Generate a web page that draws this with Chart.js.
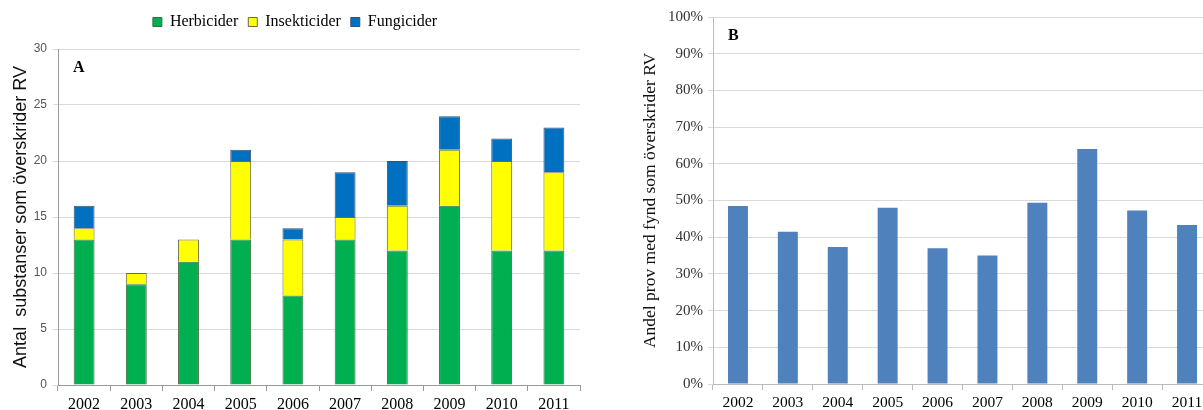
<!DOCTYPE html>
<html>
<head>
<meta charset="utf-8">
<script src="https://cdn.jsdelivr.net/npm/chart.js@4.4.0/dist/chart.umd.min.js"></script>
<style>
  html, body { margin: 0; padding: 0; background: #fff; width: 1203px; height: 410px; overflow: hidden; }
  #wrapA { position: absolute; left: 0; top: 0; width: 600px; height: 410px; }
  #wrapB { position: absolute; left: 600px; top: 0; width: 612px; height: 410px; }
</style>
</head>
<body>
<div id="wrapA"><canvas id="chartA"></canvas></div>
<div id="wrapB"><canvas id="chartB"></canvas></div>
<script>
// data
const years = ['2002', '2003', '2004', '2005', '2006', '2007', '2008', '2009', '2010', '2011'];
const herbicider = [13, 9, 11, 13, 8, 13, 12, 16, 12, 12];
const insekticider = [1, 1, 2, 7, 5, 2, 4, 5, 8, 7];
const fungicider = [2, 0, 0, 1, 1, 4, 4, 3, 2, 4];
const andelProv = [48.5, 41.5, 37.3, 48, 37, 35, 49.4, 64, 47.3, 43.3];

const serif = "'Liberation Serif', 'Times New Roman', serif";
const sans = "'Liberation Sans', Arial, sans-serif";

// draws the panel letter inside the plot area
const panelLetter = {
  id: 'panelLetter',
  afterDraw(chart, args, opts) {
    const { ctx, chartArea } = chart;
    ctx.save();
    ctx.font = 'bold 16px ' + serif;
    ctx.fillStyle = '#000';
    ctx.textBaseline = 'middle';
    ctx.fillText(opts.text, chartArea.left + 15, chartArea.top + 19);
    ctx.restore();
  }
};

// extra space under the legend
const legendGap = {
  id: 'legendGap',
  beforeInit(chart) {
    const fit = chart.legend.fit;
    chart.legend.fit = function () {
      fit.bind(chart.legend)();
      this.height += 9;
    };
  }
};

new Chart(document.getElementById('chartA'), {
  type: 'bar',
  data: {
    labels: years,
    datasets: [
      { label: 'Herbicider', data: herbicider, backgroundColor: '#00b050', borderColor: '#3d6b3d', borderWidth: 1 },
      { label: 'Insekticider', data: insekticider, backgroundColor: '#ffff00', borderColor: '#6b6b3d', borderWidth: 1 },
      { label: 'Fungicider', data: fungicider, backgroundColor: '#0070c0', borderColor: '#3d4d6b', borderWidth: 1 }
    ]
  },
  options: {
    responsive: true,
    maintainAspectRatio: false,
    animation: false,
    layout: { padding: { top: 4, right: 20, left: 10, bottom: 0 } },
    datasets: { bar: { barPercentage: 0.4, categoryPercentage: 1 } },
    plugins: {
      tooltip: { enabled: false },
      panelLetter: { text: 'A' },
      legend: {
        position: 'top',
        labels: {
          boxWidth: 9, boxHeight: 9, padding: 10,
          color: '#000',
          font: { family: serif, size: 16 }
        }
      }
    },
    scales: {
      x: {
        stacked: true,
        grid: { display: true, drawOnChartArea: false, offset: true, tickLength: 6, color: '#999' },
        border: { color: '#999' },
        ticks: { color: '#000', font: { family: serif, size: 16 }, padding: 4 },
        afterFit(scale) { scale.height = 25; }
      },
      y: {
        stacked: true,
        min: 0, max: 30,
        ticks: { stepSize: 5, color: '#555', font: { family: sans, size: 12 }, padding: 6 },
        grid: { color: '#d9d9d9', tickLength: 5 },
        border: { color: '#999' },
        title: {
          display: true,
          text: 'Antal  substanser som överskrider RV',
          color: '#111',
          font: { family: sans, size: 18 },
          padding: 0
        },
        afterFit(scale) { scale.width = 48; }
      }
    }
  },
  plugins: [panelLetter, legendGap]
});

new Chart(document.getElementById('chartB'), {
  type: 'bar',
  data: {
    labels: years,
    datasets: [
      { label: 'Andel', data: andelProv, backgroundColor: '#4f81bd', borderWidth: 0 }
    ]
  },
  options: {
    responsive: true,
    maintainAspectRatio: false,
    animation: false,
    layout: { padding: { top: 17, right: 0, left: 40, bottom: 0 } },
    datasets: { bar: { barPercentage: 0.4, categoryPercentage: 1 } },
    plugins: {
      tooltip: { enabled: false },
      legend: { display: false },
      panelLetter: { text: 'B' }
    },
    scales: {
      x: {
        grid: { display: true, drawOnChartArea: false, offset: true, tickLength: 6, color: '#bbb' },
        border: { color: '#bbb' },
        ticks: { color: '#000', font: { family: serif, size: 15.5 }, padding: 4 },
        afterFit(scale) { scale.height = 26; }
      },
      y: {
        min: 0, max: 100,
        ticks: {
          stepSize: 10, color: '#333', font: { family: serif, size: 15 }, padding: 5,
          callback: v => v + '%'
        },
        grid: { color: '#d9d9d9', tickLength: 5 },
        border: { color: '#bbb' },
        title: {
          display: true,
          text: 'Andel prov med fynd som överskrider RV',
          color: '#111',
          font: { family: serif, size: 17.5 },
          padding: 0
        },
        afterFit(scale) { scale.width = 73; }
      }
    }
  },
  plugins: [panelLetter]
});
</script>
</body>
</html>
